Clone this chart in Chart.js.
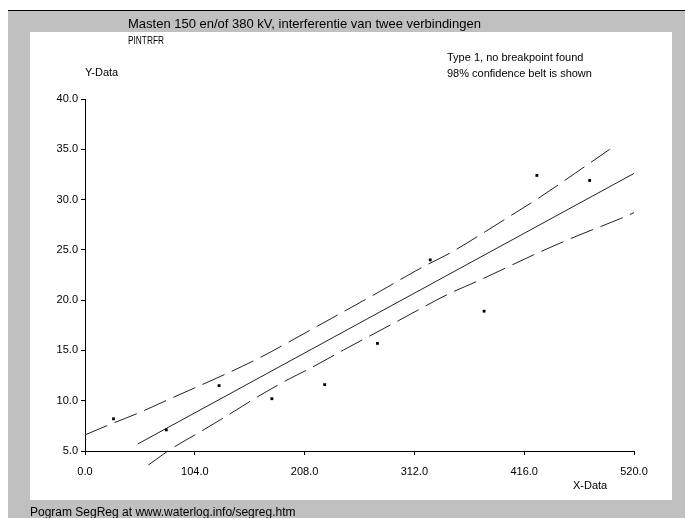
<!DOCTYPE html>
<html>
<head>
<meta charset="utf-8">
<script src="https://cdn.jsdelivr.net/npm/chart.js@4/dist/chart.umd.min.js"></script>
<style>
    html, body { margin: 0; padding: 0; background: #fff; }
    #wrap { width: 685px; height: 518px; position: relative; }
</style>
</head>
<body>
<div id="wrap"><canvas id="chart" width="685" height="518"></canvas></div>
<script>
// observed points
const obsX = [27, 77, 127, 177, 227, 277, 327, 378, 428, 478];
const obsY = [8.2, 7.1, 11.5, 10.2, 11.6, 15.7, 24.0, 18.9, 32.4, 31.9];

// regression line
const fitX = [50, 520];
const fitY = [5.7, 32.6];

// 98% confidence belt, upper and lower
const upperX = [0, 25, 50, 85, 128, 166, 213, 279, 320, 346, 379, 404, 429, 464, 497];
const upperY = [6.6, 7.7, 8.75, 10.4, 12.4, 14.3, 17.0, 20.85, 23.3, 24.7, 26.8, 28.45, 30.1, 32.6, 35.0];
const lowerX = [60, 80, 109, 136, 166, 194, 213, 245, 295, 346, 371, 428, 464, 507, 520];
const lowerY = [3.6, 5.1, 6.9, 8.6, 10.55, 12.2, 13.2, 15.05, 17.85, 20.7, 21.85, 24.65, 26.3, 28.1, 28.7];

const xTicks = [0, 104, 208, 312, 416, 520];
const yTicks = [5, 10, 15, 20, 25, 30, 35, 40];

const titleText = 'Masten 150 en/of 380 kV, interferentie van twee verbindingen';
const subTitle = 'PINTRFR';
const noteLines = ['Type 1, no breakpoint found', '98% confidence belt is shown'];
const footerText = 'Pogram SegReg at www.waterlog.info/segreg.htm';

const toPoints = (xs, ys) => xs.map((x, i) => ({ x, y: ys[i] }));

const FONT = 'Arial, "Liberation Sans", sans-serif';

const framePlugin = {
    id: 'frame',
    beforeDraw(chart) {
        const { ctx, width, height } = chart;
        ctx.save();
        ctx.fillStyle = '#ffffff';
        ctx.fillRect(0, 0, width, height);
        ctx.fillStyle = '#c0c0c0';
        ctx.fillRect(8, 10, width - 8, height - 10);
        ctx.fillStyle = '#000';
        ctx.fillRect(8, 10, width - 8, 1);
        ctx.fillStyle = '#ffffff';
        ctx.fillRect(30, 32, 642, 468);
        ctx.restore();
    },
    afterDraw(chart) {
        const { ctx } = chart;
        ctx.save();
        ctx.fillStyle = '#000';
        ctx.textBaseline = 'middle';
        ctx.textAlign = 'left';
        ctx.font = `13px ${FONT}`;
        ctx.fillText(titleText, 128, 24, 385);
        ctx.font = `10px ${FONT}`;
        ctx.fillText(subTitle, 128, 41, 36);
        ctx.font = `11px ${FONT}`;
        ctx.fillText(noteLines[0], 447, 58);
        ctx.fillText(noteLines[1], 447, 74);
        ctx.fillText('Y-Data', 85, 73);
        ctx.fillText('X-Data', 573, 486);
        ctx.font = `12px ${FONT}`;
        ctx.fillText(footerText, 30, 513, 270);
        ctx.restore();
    },
};

new Chart(document.getElementById('chart').getContext('2d'), {
    type: 'scatter',
    data: {
        datasets: [
            {
                label: 'data',
                data: toPoints(obsX, obsY),
                pointStyle: 'rect',
                pointRadius: 2,
                backgroundColor: '#000',
                borderColor: '#000',
                borderWidth: 0,
                showLine: false,
            },
            {
                label: 'fit',
                data: toPoints(fitX, fitY),
                showLine: true,
                pointRadius: 0,
                borderColor: '#222',
                borderWidth: 1,
                clip: false,
            },
            {
                label: 'upper',
                data: toPoints(upperX, upperY),
                showLine: true,
                pointRadius: 0,
                borderColor: '#222',
                borderWidth: 1,
                borderDash: [24, 8],
                cubicInterpolationMode: 'monotone',
                clip: false,
            },
            {
                label: 'lower',
                data: toPoints(lowerX, lowerY),
                showLine: true,
                pointRadius: 0,
                borderColor: '#222',
                borderWidth: 1,
                borderDash: [24, 8],
                cubicInterpolationMode: 'monotone',
                clip: false,
            },
        ],
    },
    options: {
        responsive: false,
        animation: false,
        layout: {
            padding: { left: 0, right: 51, top: 99, bottom: 0 },
        },
        plugins: {
            legend: { display: false },
            tooltip: { enabled: false },
        },
        scales: {
            x: {
                type: 'linear',
                min: 0,
                max: 520,
                afterBuildTicks(scale) {
                    scale.ticks = xTicks.map((value) => ({ value }));
                },
                afterFit(scale) {
                    scale.height = 67;
                },
                ticks: {
                    color: '#000',
                    padding: 10,
                    maxRotation: 0,
                    font: { family: FONT, size: 11 },
                    callback: (value) => Number(value).toFixed(1),
                },
                grid: {
                    drawOnChartArea: false,
                    drawTicks: true,
                    tickLength: 4,
                    color: '#000',
                },
                border: { display: true, color: '#000', width: 1 },
            },
            y: {
                type: 'linear',
                min: 5,
                max: 40,
                afterBuildTicks(scale) {
                    scale.ticks = yTicks.map((value) => ({ value }));
                },
                afterFit(scale) {
                    scale.width = 85;
                },
                ticks: {
                    color: '#000',
                    padding: 3,
                    font: { family: FONT, size: 11 },
                    callback: (value) => Number(value).toFixed(1),
                },
                grid: {
                    drawOnChartArea: false,
                    drawTicks: true,
                    tickLength: 4,
                    color: '#000',
                },
                border: { display: true, color: '#000', width: 1 },
            },
        },
    },
    plugins: [framePlugin],
});
</script>
</body>
</html>
